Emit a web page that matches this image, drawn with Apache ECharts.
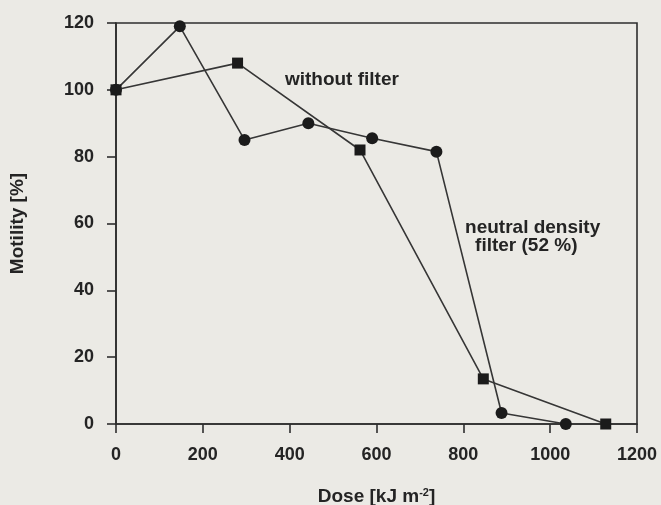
<!DOCTYPE html>
<html>
<head>
<meta charset="utf-8">
<script src="https://cdn.jsdelivr.net/npm/echarts@6/dist/echarts.min.js"></script>
<style>
  html, body { margin: 0; padding: 0; background: #ebeae5; }
  #chart { width: 661px; height: 505px; }
</style>
</head>
<body>
<div id="chart"></div>
<script>
// Motility versus UV dose, with and without a neutral density filter
const xTicks = { min: 0, max: 1200, interval: 200 };
const yTicks = { min: 0, max: 120, interval: 20 };

// dose [kJ m^-2], motility [%]
const ndFilterDose     = [0, 147, 296, 443, 590, 738, 888, 1036];
const ndFilterMotility = [100, 119, 85, 90, 85.5, 81.5, 3.3, 0];

const noFilterDose     = [0, 280, 562, 846, 1128];
const noFilterMotility = [100, 108, 82, 13.5, 0];

// annotation text anchored at (dose, motility) of its left/middle point
const annotations = [
  { text: 'without filter', dose: 389, motility: 103 },
  { text: 'neutral density', dose: 804, motility: 58.8 },
  { text: 'filter (52 %)', dose: 827, motility: 53.3 }
];

const ink = '#242424';
const lineInk = '#363636';
const axisInk = '#2e2e2e';
const font = '"Liberation Sans", Arial, Helvetica, sans-serif';

const zip = (xs, ys) => xs.map((x, i) => [x, ys[i]]);

const chart = echarts.init(document.getElementById('chart'), null, { renderer: 'canvas' });

chart.setOption({
  animation: false,
  backgroundColor: '#ebeae5',
  grid: {
    left: 116, right: 24, top: 23, bottom: 81,
    outerBoundsMode: 'none',
    containLabel: false,
    show: true, borderColor: axisInk, borderWidth: 1.6, backgroundColor: 'transparent'
  },
  xAxis: {
    type: 'value',
    min: xTicks.min, max: xTicks.max, interval: xTicks.interval,
    name: '{a|Dose [kJ m}{sup|-2}{a|]}',
    nameLocation: 'middle',
    nameGap: 63,
    nameTextStyle: {
      rich: {
        a: { fontFamily: font, fontWeight: 'bold', fontSize: 19, color: ink, lineHeight: 20 },
        sup: { fontFamily: font, fontWeight: 'bold', fontSize: 11, color: ink, verticalAlign: 'top', lineHeight: 20, padding: [0, 0, 8, 0] }
      }
    },
    axisLine: { show: true, onZero: false, lineStyle: { color: axisInk, width: 1.6 } },
    axisTick: { show: true, inside: false, length: 9, lineStyle: { color: axisInk, width: 1.6 } },
    axisLabel: {
      margin: 22, fontFamily: font, fontWeight: 'bold', fontSize: 18, color: ink,
      formatter: v => String(v)
    },
    splitLine: { show: false }
  },
  yAxis: {
    type: 'value',
    min: yTicks.min, max: yTicks.max, interval: yTicks.interval,
    name: 'Motility [%]',
    nameLocation: 'middle',
    nameGap: 89,
    nameRotate: 90,
    nameTextStyle: { fontFamily: font, fontWeight: 'bold', fontSize: 19, color: ink },
    axisLine: { show: true, onZero: false, lineStyle: { color: axisInk, width: 1.6 } },
    axisTick: { show: true, inside: false, length: 9, lineStyle: { color: axisInk, width: 1.6 } },
    axisLabel: {
      margin: 22, fontFamily: font, fontWeight: 'bold', fontSize: 18, color: ink,
      formatter: v => String(v)
    },
    splitLine: { show: false }
  },
  series: [
    {
      name: 'neutral density filter (52 %)',
      type: 'line',
      data: zip(ndFilterDose, ndFilterMotility),
      symbol: 'circle',
      symbolSize: 12,
      showAllSymbol: true,
      lineStyle: { color: lineInk, width: 1.6 },
      itemStyle: { color: '#1b1b1b', borderWidth: 0 },
      z: 2
    },
    {
      name: 'without filter',
      type: 'line',
      data: zip(noFilterDose, noFilterMotility),
      symbol: 'rect',
      symbolSize: 11,
      showAllSymbol: true,
      lineStyle: { color: lineInk, width: 1.6 },
      itemStyle: { color: '#1b1b1b', borderWidth: 0 },
      z: 3
    }
  ]
});

// place the annotations through the axes' own scale
chart.setOption({
  graphic: annotations.map(a => {
    const p = chart.convertToPixel({ gridIndex: 0 }, [a.dose, a.motility]);
    return {
      type: 'text',
      x: p[0], y: p[1],
      style: {
        text: a.text,
        fill: ink,
        font: 'bold 19px ' + font,
        textAlign: 'left',
        textVerticalAlign: 'middle'
      },
      z: 10
    };
  })
});
</script>
</body>
</html>
